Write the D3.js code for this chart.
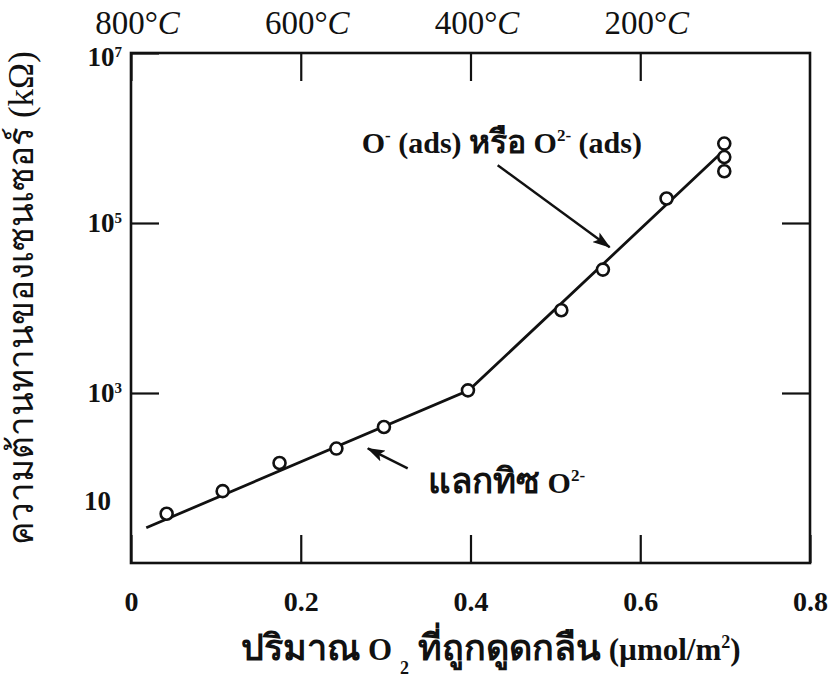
<!DOCTYPE html>
<html>
<head>
<meta charset="utf-8">
<script src="https://cdn.jsdelivr.net/npm/d3@7"></script>
<style>
    body { margin: 0; background: #fff; }
    svg { display: block; }
    text { font-family: "Liberation Serif", "Times New Roman", serif; fill: #111; }
    .lat { font-family: "Liberation Serif", "Times New Roman", serif; }
</style>
</head>
<body>
<div id="chart"></div>
<script>
/*
 Sensor resistance versus adsorbed O2 (log scale), with temperature axis on top.
 */
(function () {
    'use strict';

    // measured points (x: umol/m2, y: kOhm)
    var adsorbedO2 = [0.042, 0.108, 0.175, 0.242, 0.298, 0.397, 0.507, 0.556, 0.631, 0.699, 0.699, 0.699];
    var resistance = [38, 70, 150, 222, 398, 1075, 9400, 28300, 194000, 860000, 597000, 406000];

    // hand-drawn trend line through the points
    var trendX = [0.018, 0.398, 0.695];
    var trendY = [26, 1075, 660000];

    // axes
    var xTicks = [0, 0.2, 0.4, 0.6, 0.8];
    var xTickLabels = ['0', '0.2', '0.4', '0.6', '0.8'];
    var tempTicks = [0, 0.2, 0.4, 0.6];
    var tempLabels = ['800', '600', '400', '200'];
    var yTicks = [1e7, 1e5, 1e3];
    var yTickExp = ['7', '5', '3'];
    var yRightTicks = [1e5, 1e3];
    var yLowLabel = { value: 55, text: '10' };

    // annotations, in data units
    var noteUpper = { x: 0.602, y: 6.6e5 };
    var arrowUpper = { x1: 0.432, y1: 4.78e5, x2: 0.564, y2: 5.18e4 };
    var noteLower = { x: 0.350, y: 66 };
    var arrowLower = { x1: 0.326, y1: 130, x2: 0.279, y2: 223 };

    var width = 833,
        height = 682,
        left = 131, right = 810, top = 53, bottom = 563,
        tickLen = 28,
        ink = '#111';

    var svg = d3.select('#chart').append('svg')
        .attr('width', width)
        .attr('height', height);

    var x = d3.scaleLinear().domain([0, 0.8]).range([left, right]);
    var y = d3.scaleLog().domain([10, 1e7]).range([bottom, top]);

    svg.append('defs').append('marker')
        .attr('id', 'head')
        .attr('markerUnits', 'userSpaceOnUse')
        .attr('viewBox', '0 0 18 12')
        .attr('refX', 17)
        .attr('refY', 6)
        .attr('markerWidth', 18)
        .attr('markerHeight', 12)
        .attr('orient', 'auto')
        .append('path')
        .attr('d', 'M0,0 L18,6 L0,12 L4,6 Z')
        .attr('fill', ink);

    // axes: ticks point inward, labels set afterwards
    function styleAxis(g) {
        g.select('.domain').remove();
        g.selectAll('.tick line').attr('stroke', ink).attr('stroke-width', 2.2);
    }

    var gx = svg.append('g')
        .attr('transform', 'translate(0,' + bottom + ')')
        .call(d3.axisBottom(x)
            .tickValues(xTicks)
            .tickSizeInner(-tickLen)
            .tickSizeOuter(0)
            .tickPadding(28)
            .tickFormat(function (d, i) { return xTickLabels[i]; }));
    styleAxis(gx);
    gx.selectAll('text')
        .attr('font-size', 28)
        .attr('font-weight', 'bold')
        .attr('font-family', '"Liberation Serif", serif')
        .attr('fill', ink);

    var gt = svg.append('g')
        .attr('transform', 'translate(0,' + top + ')')
        .call(d3.axisTop(x)
            .tickValues(tempTicks)
            .tickSizeInner(-tickLen)
            .tickSizeOuter(0)
            .tickPadding(19)
            .tickFormat(''));
    styleAxis(gt);
    gt.selectAll('.tick text').each(function (d, i) {
        var t = d3.select(this)
            .attr('font-size', 33)
            .attr('font-family', '"Liberation Serif", serif')
            .attr('fill', ink)
            .attr('dx', 6);
        t.append('tspan').text(tempLabels[i] + '°');
        t.append('tspan').attr('font-style', 'italic').text('C');
    });

    var gy = svg.append('g')
        .attr('transform', 'translate(' + left + ',0)')
        .call(d3.axisLeft(y)
            .tickValues(yTicks)
            .tickSizeInner(-tickLen)
            .tickSizeOuter(0)
            .tickPadding(9)
            .tickFormat(''));
    styleAxis(gy);
    gy.selectAll('.tick text').each(function (d, i) {
        var t = d3.select(this)
            .attr('font-size', 27)
            .attr('font-weight', 'bold')
            .attr('font-family', '"Liberation Serif", serif')
            .attr('fill', ink)
            .attr('dy', i === 0 ? '0.45em' : '0.32em');
        t.append('tspan').text('10');
        t.append('tspan').attr('font-size', 15).attr('dy', -9).text(yTickExp[i]);
    });

    var gr = svg.append('g')
        .attr('transform', 'translate(' + right + ',0)')
        .call(d3.axisRight(y)
            .tickValues(yRightTicks)
            .tickSizeInner(-tickLen)
            .tickSizeOuter(0)
            .tickFormat(''));
    styleAxis(gr);

    svg.append('text')
        .attr('x', left - 20)
        .attr('y', y(yLowLabel.value))
        .attr('dy', '0.35em')
        .attr('text-anchor', 'end')
        .attr('font-size', 27)
        .attr('font-weight', 'bold')
        .text(yLowLabel.text);

    // frame
    svg.append('rect')
        .attr('x', left)
        .attr('y', top)
        .attr('width', right - left)
        .attr('height', bottom - top)
        .attr('fill', 'none')
        .attr('stroke', ink)
        .attr('stroke-width', 2.6);

    // trend line
    var line = d3.line()
        .x(function (d) { return x(d[0]); })
        .y(function (d) { return y(d[1]); });

    svg.append('path')
        .datum(d3.zip(trendX, trendY))
        .attr('d', line)
        .attr('fill', 'none')
        .attr('stroke', ink)
        .attr('stroke-width', 2.8);

    svg.append('g').selectAll('circle')
        .data(d3.zip(adsorbedO2, resistance))
        .join('circle')
        .attr('cx', function (d) { return x(d[0]); })
        .attr('cy', function (d) { return y(d[1]); })
        .attr('r', 6)
        .attr('fill', '#fff')
        .attr('stroke', ink)
        .attr('stroke-width', 2.6);

    // annotations
    function arrow(a) {
        svg.append('line')
            .attr('x1', x(a.x1)).attr('y1', y(a.y1))
            .attr('x2', x(a.x2)).attr('y2', y(a.y2))
            .attr('stroke', ink)
            .attr('stroke-width', 2.4)
            .attr('marker-end', 'url(#head)');
    }
    arrow(arrowUpper);
    arrow(arrowLower);

    // mixed Thai / Latin text: each piece gets its own size, sup/sub via dy
    function rich(t, parts) {
        var shift = 0;
        parts.forEach(function (p) {
            var s = t.append('tspan').text(p.text),
                want = p.sup ? -12 : (p.sub ? 14 : 0);
            if (want !== shift) {
                s.attr('dy', want - shift);
                shift = want;
            }
            if (p.size) {
                s.attr('font-size', p.size);
            }
            if (p.lat) {
                s.classed('lat', true);
            }
        });
    }

    var up = svg.append('text')
        .attr('x', x(noteUpper.x))
        .attr('y', y(noteUpper.y))
        .attr('text-anchor', 'end')
        .attr('font-size', 30)
        .attr('font-weight', 'bold');
    rich(up, [
        { text: 'O', lat: true },
        { text: '-', lat: true, sup: true, size: 17 },
        { text: ' (ads) ', lat: true },
        { text: 'หรือ', size: 32 },
        { text: ' O', lat: true },
        { text: '2-', lat: true, sup: true, size: 17 },
        { text: ' (ads)', lat: true }
    ]);

    var low = svg.append('text')
        .attr('x', x(noteLower.x))
        .attr('y', y(noteLower.y))
        .attr('font-size', 30)
        .attr('font-weight', 'bold');
    rich(low, [
        { text: 'แลกทิซ', size: 35 },
        { text: ' O', lat: true },
        { text: '2-', lat: true, sup: true, size: 17 }
    ]);

    // axis titles
    var xt = svg.append('text')
        .attr('x', 491)
        .attr('y', 660)
        .attr('text-anchor', 'middle')
        .attr('font-size', 31)
        .attr('font-weight', 'bold');
    rich(xt, [
        { text: 'ปริมาณ', size: 36 },
        { text: ' O ', lat: true },
        { text: '2', lat: true, sub: true, size: 18 },
        { text: ' ที่ถูกดูดกลืน', size: 36 },
        { text: ' (µmol/m', lat: true },
        { text: '2', lat: true, sup: true, size: 18 },
        { text: ')', lat: true }
    ]);

    svg.append('text')
        .attr('transform', 'translate(33,' + 298 + ') rotate(-90)')
        .attr('text-anchor', 'middle')
        .attr('font-size', 35)
        .text('ความต้านทานของเซนเซอร์ (kΩ)');
}());
</script>
</body>
</html>
